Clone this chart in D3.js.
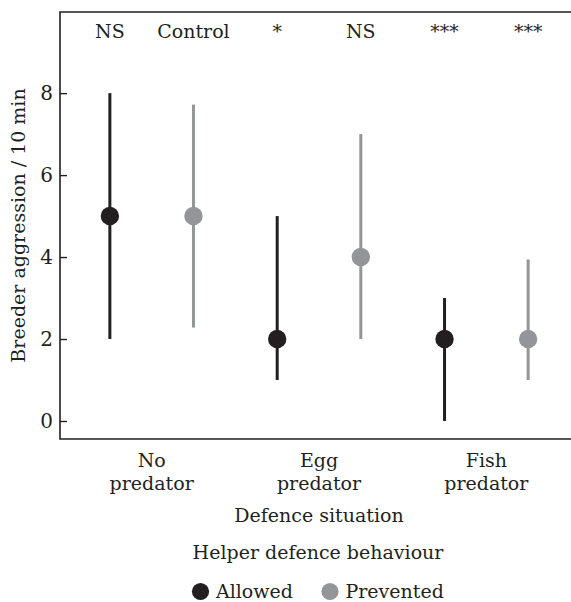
<!DOCTYPE html>
<html>
<head>
<meta charset="utf-8">
<script src="https://cdn.jsdelivr.net/npm/d3@7"></script>
<style>
  body { margin: 0; background: #fff; }
  svg { display: block; }
  text { font-family: "DejaVu Serif", serif; fill: #231f20; }
</style>
</head>
<body>
<svg id="chart" width="571" height="602"></svg>
<script>
// data
const categories = ["No predator", "Egg predator", "Fish predator"];
const series = ["Allowed", "Prevented"];
const allowedMedian = [5, 2, 2];
const allowedLow = [2, 1, 0];
const allowedHigh = [8, 5, 3];
const preventedMedian = [5, 4, 2];
const preventedLow = [2.28, 2, 1];
const preventedHigh = [7.72, 7, 3.94];
const sigLabels = ["NS", "Control", "*", "NS", "***", "***"];
const yTicks = [0, 2, 4, 6, 8];

const colors = { Allowed: "#231f20", Prevented: "#939598" };

const svg = d3.select("#chart");
const plotLeft = 60, plotTop = 12, plotBottom = 439, plotRight = 571;

const x0 = d3.scaleBand().domain(categories).range([68, 570]);
const x1 = d3.scalePoint().domain(series).range([-41.8, 41.8]);
const y = d3.scaleLinear().domain([-0.44, 9.98]).range([plotBottom, plotTop]);

// rows for each point
const rows = [];
categories.forEach((c, i) => {
    rows.push({ cat: c, s: "Allowed", med: allowedMedian[i], lo: allowedLow[i], hi: allowedHigh[i] });
    rows.push({ cat: c, s: "Prevented", med: preventedMedian[i], lo: preventedLow[i], hi: preventedHigh[i] });
});
const xPos = d => x0(d.cat) + x0.bandwidth() / 2 + x1(d.s);

// frame: left, top, bottom
svg.append("path")
    .attr("d", `M${plotRight},${plotTop}H${plotLeft}V${plotBottom}H${plotRight}`)
    .attr("fill", "none")
    .attr("stroke", "#231f20")
    .attr("stroke-width", 1.6);

// y axis, ticks pointing inward
const yAxis = svg.append("g")
    .attr("transform", `translate(${plotLeft},0)`)
    .call(d3.axisLeft(y).tickValues(yTicks).tickSizeInner(-7).tickSizeOuter(0).tickPadding(7));
yAxis.select(".domain").remove();
yAxis.selectAll(".tick line").attr("stroke", "#231f20").attr("stroke-width", 1.4);
yAxis.selectAll(".tick text")
    .style("font-family", "DejaVu Serif")
    .style("font-size", "20px")
    .attr("fill", "#231f20");

svg.append("text")
    .attr("transform", `translate(25,${(plotTop + plotBottom) / 2}) rotate(-90)`)
    .attr("text-anchor", "middle")
    .style("font-size", "19px")
    .text("Breeder aggression / 10 min");

// range lines
svg.selectAll("line.range")
    .data(rows)
    .enter()
    .append("line")
    .attr("class", "range")
    .attr("x1", xPos)
    .attr("x2", xPos)
    .attr("y1", d => y(d.lo))
    .attr("y2", d => y(d.hi))
    .attr("stroke", d => colors[d.s])
    .attr("stroke-width", 3);

// medians
svg.selectAll("circle.med")
    .data(rows)
    .enter()
    .append("circle")
    .attr("class", "med")
    .attr("cx", xPos)
    .attr("cy", d => y(d.med))
    .attr("r", 9.2)
    .attr("fill", d => colors[d.s]);

// significance labels along the top
svg.selectAll("text.sig")
    .data(rows)
    .enter()
    .append("text")
    .attr("class", "sig")
    .attr("x", xPos)
    .attr("y", 38)
    .attr("text-anchor", "middle")
    .style("font-size", "19px")
    .text((d, i) => sigLabels[i]);

// category labels
const catText = svg.selectAll("text.cat")
    .data(categories)
    .enter()
    .append("text")
    .attr("class", "cat")
    .attr("text-anchor", "middle")
    .style("font-size", "19px");
catText.each(function (c) {
    const words = c.split(" ");
    const cx = x0(c) + x0.bandwidth() / 2;
    words.forEach((w, j) => {
        d3.select(this).append("tspan")
            .attr("x", cx)
            .attr("y", 466.5 + j * 23.5)
            .text(w);
    });
});

svg.append("text")
    .attr("x", 319)
    .attr("y", 521.5)
    .attr("text-anchor", "middle")
    .style("font-size", "19px")
    .text("Defence situation");

// legend
svg.append("text")
    .attr("x", 318)
    .attr("y", 558.5)
    .attr("text-anchor", "middle")
    .style("font-size", "19px")
    .text("Helper defence behaviour");

const legendX = [200.5, 330];
const legend = svg.selectAll("g.legend")
    .data(series)
    .enter()
    .append("g")
    .attr("class", "legend")
    .attr("transform", (d, i) => `translate(${legendX[i]},591.5)`);
legend.append("circle")
    .attr("r", 8.6)
    .attr("fill", d => colors[d]);
legend.append("text")
    .attr("x", 15.5)
    .attr("y", 6.5)
    .style("font-size", "19px")
    .text(d => d);
</script>
</body>
</html>
